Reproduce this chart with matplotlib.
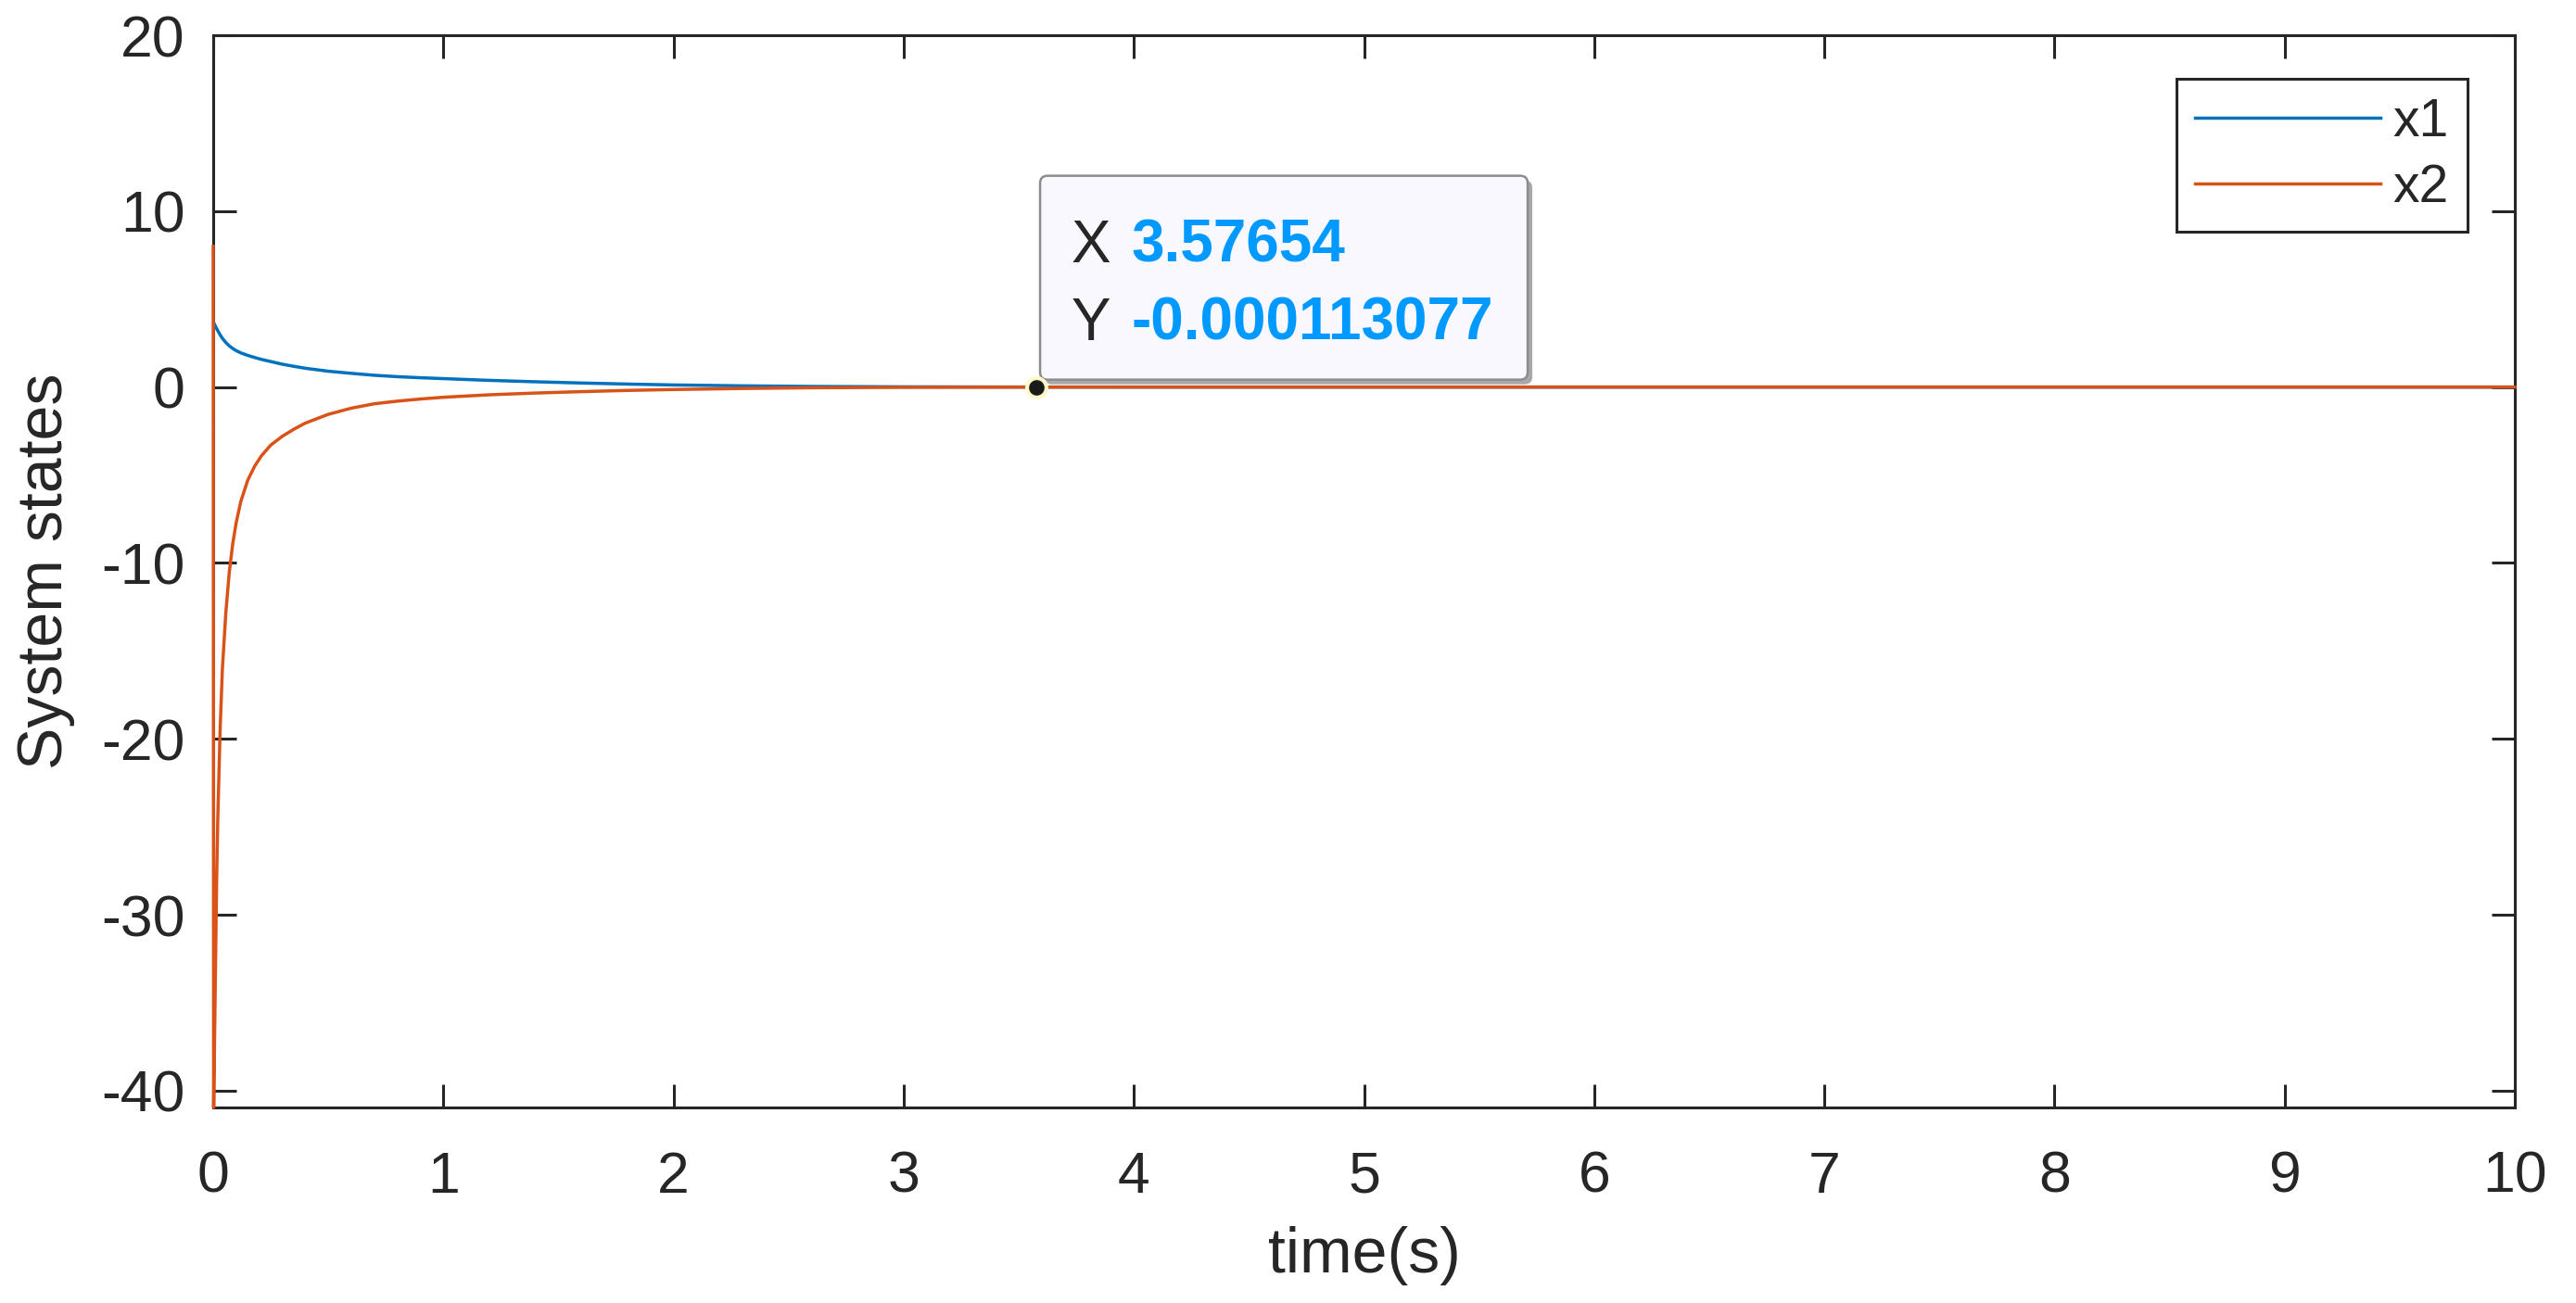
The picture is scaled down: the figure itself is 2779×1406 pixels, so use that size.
"""System states x1/x2 over time, MATLAB-style with a data tip"""

import numpy as np
import matplotlib
matplotlib.use('Agg')
import matplotlib.pyplot as plt
import matplotlib.transforms as mtransforms
from matplotlib.patches import FancyBboxPatch

plt.rcParams['font.family'] = ['Liberation Sans', 'DejaVu Sans']
plt.rcParams['axes.unicode_minus'] = False

# ========== data ==========
t = [0, 0.002, 0.005, 0.01, 0.015, 0.02, 0.03, 0.04, 0.055, 0.07, 0.085, 0.1,
     0.12, 0.15, 0.18, 0.21, 0.25, 0.3, 0.35, 0.4, 0.5, 0.6, 0.7, 0.8, 0.9,
     1.0, 1.2, 1.4, 1.6, 1.8, 2.0, 2.3, 2.6, 3.0, 3.5, 4.0, 5.0, 6.0, 7.0,
     8.0, 9.0, 10.0]
x1 = [3.72, 3.66, 3.58, 3.45, 3.32, 3.2, 2.97, 2.77, 2.53, 2.34, 2.19, 2.07,
      1.94, 1.8, 1.68, 1.57, 1.45, 1.3, 1.18, 1.07, 0.9, 0.78, 0.67, 0.59, 0.53,
      0.48, 0.38, 0.3, 0.23, 0.17, 0.12, 0.07, 0.035, 0.012, 0.003, 0.0, 0.0, 0.0, 0.0,
      0.0, 0.0, 0.0]
x2 = [8.0, -40.95, -38.0, -33.0, -28.0, -24.5, -19.5, -16.0, -12.8, -10.5, -8.9, -7.7,
      -6.5, -5.3, -4.5, -3.9, -3.3, -2.8, -2.4, -2.05, -1.55, -1.2, -0.95, -0.8, -0.68,
      -0.58, -0.44, -0.34, -0.26, -0.19, -0.14, -0.08, -0.04, -0.015, -0.003, 0.0, 0.0, 0.0, 0.0,
      0.0, 0.0, 0.0]
labels = ['x1', 'x2']

TIP_X = 3.57654
TIP_Y = -0.000113077

# ========== styles ==========
BLUE = '#0072BD'
ORANGE = '#D95319'
DARK = '#262626'
TIP_BLUE = '#0099FF'
TICK_FS = 45
LABEL_FS = 49
LW = 2.5

fig = plt.figure(figsize=(27.79, 14.06), dpi=100)
fig.patch.set_facecolor('white')
ax = fig.add_axes([230 / 2779, 1 - 1195 / 1406, (2713 - 230) / 2779, (1195 - 38) / 1406])

l1, = ax.plot(t, x1, color=BLUE, lw=LW, label=labels[0], zorder=6)
l2, = ax.plot(t, x2, color=ORANGE, lw=LW, label=labels[1], zorder=7, clip_on=False)

ax.set_xlim(0, 10)
ax.set_ylim(-40.95, 20)
ax.set_xticks(np.arange(0, 11, 1))
ax.set_yticks(np.arange(-40, 21, 10))

for sp in ax.spines.values():
    sp.set_color(DARK)
    sp.set_linewidth(2.2)
    sp.set_zorder(5)
ax.tick_params(direction='in', length=18, width=2.2, color=DARK,
               labelcolor=DARK, labelsize=TICK_FS, top=True, right=True)
ax.tick_params(axis='x', pad=33)
ax.tick_params(axis='y', pad=22)

ax.set_xlabel('time(s)', fontsize=LABEL_FS, color=DARK, labelpad=17)
ax.set_ylabel('System states', fontsize=LABEL_FS, color=DARK, labelpad=20)

# ========== legend ==========
leg = ax.legend(handles=[l1, l2], loc='upper right',
                bbox_to_anchor=(2662 / 2779, 1 - 85 / 1406),
                bbox_transform=fig.transFigure, borderaxespad=0,
                fancybox=False, framealpha=1, edgecolor=DARK, facecolor='white',
                fontsize=41, handlelength=3.5, handletextpad=0.25,
                borderpad=0.35, labelspacing=0.3)
leg.get_frame().set_linewidth(2.2)
leg.set_zorder(12)
for txt in leg.get_texts():
    txt.set_color(DARK)

# ========== data tip (offsets in inches from the picked point) ==========
tip_trans = fig.dpi_scale_trans + mtransforms.ScaledTranslation(TIP_X, TIP_Y, ax.transData)

shadow = FancyBboxPatch((0.09, 0.03), 5.26, 2.20,
                        boxstyle='round,pad=0,rounding_size=0.08',
                        transform=tip_trans, facecolor='#a8a8a8',
                        edgecolor='none', zorder=8)
box = FancyBboxPatch((0.04, 0.08), 5.26, 2.20,
                     boxstyle='round,pad=0,rounding_size=0.08',
                     transform=tip_trans, facecolor='#f8f8fe',
                     edgecolor='#8c8c8c', linewidth=1.8, zorder=9)
ax.add_artist(shadow)
ax.add_artist(box)

ax.text(0.38, 1.35, 'X', transform=tip_trans, fontsize=46, color=DARK,
        ha='left', va='baseline', zorder=10)
ax.text(1.02, 1.35, '3.57654', transform=tip_trans, fontsize=46,
        fontweight='bold', color=TIP_BLUE, ha='left', va='baseline', zorder=10)
ax.text(0.38, 0.51, 'Y', transform=tip_trans, fontsize=46, color=DARK,
        ha='left', va='baseline', zorder=10)
ax.text(1.02, 0.51, '-0.000113077', transform=tip_trans, fontsize=46,
        fontweight='bold', color=TIP_BLUE, ha='left', va='baseline', zorder=10)

ax.plot([TIP_X], [TIP_Y], 'o', markersize=15, markerfacecolor='#1a1a1a',
        markeredgecolor='#fff8c8', markeredgewidth=3, zorder=11, clip_on=False)

fig.savefig('out.png', dpi=100)
